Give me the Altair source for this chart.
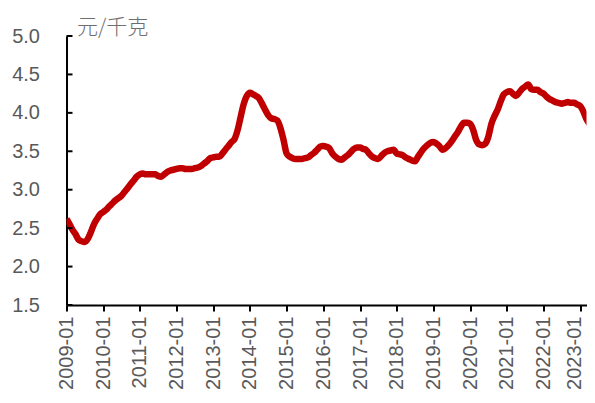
import altair as alt
import pandas as pd

# Monthly price readings (元/千克), Jan..Dec of each year
years = list(range(2009, 2024))
v2009 = [2.62, 2.55, 2.48, 2.42, 2.35, 2.33, 2.32, 2.36, 2.45, 2.55, 2.62, 2.68]
v2010 = [2.71, 2.74, 2.78, 2.82, 2.86, 2.89, 2.92, 2.97, 3.02, 3.07, 3.12, 3.17]
v2011 = [3.20, 3.21, 3.20, 3.20, 3.20, 3.20, 3.18, 3.17, 3.20, 3.23, 3.25, 3.26]
v2012 = [3.27, 3.28, 3.28, 3.27, 3.27, 3.27, 3.28, 3.29, 3.31, 3.34, 3.37, 3.41]
v2013 = [3.42, 3.43, 3.43, 3.47, 3.52, 3.57, 3.62, 3.66, 3.78, 3.95, 4.12, 4.22]
v2014 = [4.26, 4.24, 4.22, 4.19, 4.12, 4.04, 3.97, 3.93, 3.92, 3.90, 3.80, 3.65]
v2015 = [3.47, 3.43, 3.41, 3.40, 3.40, 3.40, 3.41, 3.42, 3.45, 3.48, 3.52, 3.56]
v2016 = [3.57, 3.56, 3.54, 3.47, 3.43, 3.40, 3.39, 3.42, 3.45, 3.49, 3.53, 3.55]
v2017 = [3.55, 3.53, 3.52, 3.47, 3.43, 3.41, 3.40, 3.44, 3.48, 3.50, 3.51, 3.52]
v2018 = [3.47, 3.46, 3.45, 3.42, 3.40, 3.38, 3.37, 3.43, 3.49, 3.54, 3.58, 3.61]
v2019 = [3.62, 3.60, 3.57, 3.52, 3.54, 3.58, 3.63, 3.69, 3.75, 3.82, 3.87, 3.87]
v2020 = [3.86, 3.78, 3.65, 3.59, 3.58, 3.60, 3.69, 3.86, 3.96, 4.04, 4.15, 4.24]
v2021 = [4.27, 4.28, 4.25, 4.22, 4.26, 4.31, 4.34, 4.37, 4.31, 4.30, 4.30, 4.27]
v2022 = [4.25, 4.21, 4.18, 4.16, 4.14, 4.13, 4.12, 4.13, 4.14, 4.13, 4.13, 4.11]
v2023 = [4.09, 4.02, 3.93, 3.86, 3.80]
series = [v2009, v2010, v2011, v2012, v2013, v2014, v2015, v2016, v2017,
          v2018, v2019, v2020, v2021, v2022, v2023]

x_tick_labels = ["2009-01", "2010-01", "2011-01", "2012-01", "2013-01",
                 "2014-01", "2015-01", "2016-01", "2017-01", "2018-01",
                 "2019-01", "2020-01", "2021-01", "2022-01", "2023-01"]
y_ticks = [1.5, 2.0, 2.5, 3.0, 3.5, 4.0, 4.5, 5.0]
unit_label = "元/千克"

rows = []
for yr, vals in zip(years, series):
    for m, v in enumerate(vals, start=1):
        rows.append({"date": f"{yr}-{m:02d}-01", "price": v})
df = pd.DataFrame(rows)
tick_df = pd.DataFrame({"price": y_ticks})

x_values = [alt.DateTime(year=int(s[:4]), month=int(s[5:7]), date=1, utc=True)
            for s in x_tick_labels]
# the visible window ends a little after 2023-03 (the series runs beyond it)
x_domain = [alt.DateTime(year=2009, month=1, date=1, utc=True),
            alt.DateTime(year=2023, month=3, date=5, utc=True)]

gray = "#595959"

x_enc = alt.X(
    "date:T",
    scale=alt.Scale(type="utc", domain=x_domain),
    axis=alt.Axis(
        values=x_values, format="%Y-%m", labelAngle=-90,
        labelFont="Liberation Sans", labelFontSize=20, labelColor=gray,
        labelPadding=5, labelOverlap=False, labelFlush=False,
        labelOffset={"condition": {"test": "datum.value > utc(2022, 6, 1)",
                                   "value": -6},
                     "value": 0},
        tickColor="black", tickWidth=2, tickSize=6,
        domainColor="black", domainWidth=2, grid=False, title=None,
    ),
)
y_scale = alt.Scale(domain=[1.5, 5.0], nice=False, zero=False)
y_axis = alt.Axis(
    values=y_ticks, format=".1f",
    labelFont="Liberation Sans", labelFontSize=20, labelColor=gray,
    labelPadding=27, labelOverlap=False, labelFlush=False, labelBound=False,
    ticks=False, tickSize=0,
    domainColor="black", domainWidth=2, grid=False,
    title=unit_label, titleAngle=0, titleX=10, titleY=-3,
    titleAlign="left", titleBaseline="alphabetic",
    titleFont="Noto Sans CJK SC", titleFontSize=21,
    titleFontWeight=300, titleColor="#6e6e6e",
)
y_enc = alt.Y("price:Q", scale=y_scale, axis=y_axis)

line = alt.Chart(df).mark_line(
    color="#C00000", strokeWidth=6.5, interpolate="monotone", clip=True
).encode(x=x_enc, y=y_enc)

inner_ticks = alt.Chart(tick_df).mark_rule(color="black", strokeWidth=2).encode(
    y=y_enc,
    x=alt.value(0),
    x2=alt.value(6),
)

chart = alt.layer(line, inner_ticks).properties(
    width=520,
    height=269,
    padding={"left": 58.5, "top": 28, "right": 0, "bottom": 86},
    autosize="none",
).configure_view(stroke=None).configure_axis(labelOverlap=False)

chart.save("out.html", embed_options={"renderer": "svg", "actions": False})
